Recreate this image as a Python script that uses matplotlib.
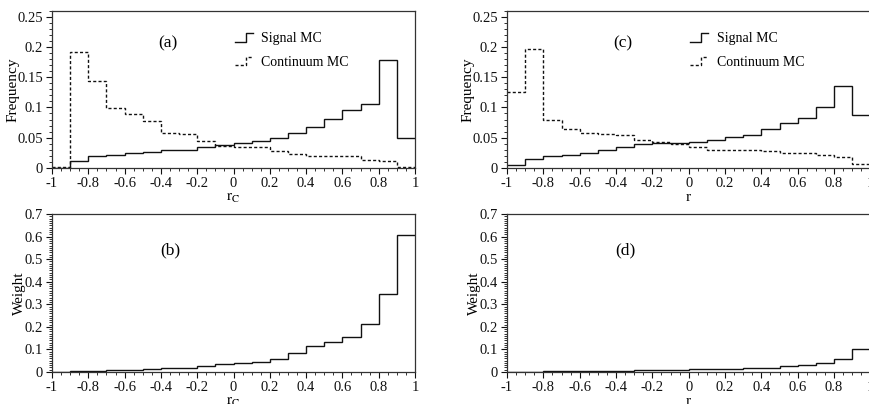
import numpy as np
import matplotlib
matplotlib.use("Agg")
import matplotlib.pyplot as plt
from matplotlib.lines import Line2D
from matplotlib.legend_handler import HandlerLine2D
from matplotlib.ticker import MultipleLocator, FuncFormatter

# bin edges of all four histograms
edges = [-1.0, -0.9, -0.8, -0.7, -0.6, -0.5, -0.4, -0.3, -0.2, -0.1, 0.0,
         0.1, 0.2, 0.3, 0.4, 0.5, 0.6, 0.7, 0.8, 0.9, 1.0]

# (a) distributions in r_C
sig_rc = [0.0, 0.011, 0.019, 0.021, 0.024, 0.026, 0.029, 0.029, 0.034, 0.038,
          0.041, 0.044, 0.049, 0.058, 0.068, 0.081, 0.096, 0.106, 0.179, 0.049]
cont_rc = [0.002, 0.192, 0.144, 0.099, 0.089, 0.077, 0.057, 0.056, 0.045, 0.037,
           0.035, 0.034, 0.028, 0.023, 0.019, 0.019, 0.019, 0.014, 0.012, 0.002]

# (c) distributions in r
sig_r = [0.005, 0.015, 0.020, 0.022, 0.024, 0.029, 0.034, 0.039, 0.042, 0.042,
         0.043, 0.046, 0.051, 0.054, 0.064, 0.074, 0.083, 0.100, 0.136, 0.087]
cont_r = [0.126, 0.196, 0.080, 0.065, 0.057, 0.056, 0.055, 0.047, 0.043, 0.040,
          0.035, 0.030, 0.030, 0.029, 0.028, 0.024, 0.024, 0.021, 0.018, 0.006]

# (b) and (d) weights
w_rc = [0.0, 0.003, 0.005, 0.007, 0.009, 0.012, 0.018, 0.019, 0.027, 0.034,
        0.038, 0.044, 0.059, 0.083, 0.117, 0.131, 0.155, 0.213, 0.344, 0.607]
w_r = [0.0, 0.0, 0.003, 0.003, 0.004, 0.004, 0.005, 0.007, 0.009, 0.010,
       0.012, 0.013, 0.015, 0.016, 0.019, 0.025, 0.030, 0.040, 0.058, 0.102]

plt.rcParams["font.family"] = ["Liberation Serif", "DejaVu Serif"]
plt.rcParams["mathtext.fontset"] = "stix"
plt.rcParams["axes.unicode_minus"] = False
plt.rcParams["font.size"] = 10.5

INK = "#111111"
DASH = (0, (2.2, 1.6))


class StepHandler(HandlerLine2D):
    """legend handle drawn as a small step, like the original figure"""
    def create_artists(self, legend, orig_handle, xdescent, ydescent,
                       width, height, fontsize, trans):
        x0, x1 = -xdescent, -xdescent + width
        xm = x0 + 0.6 * width
        y0, y1 = -ydescent + 0.05 * height, -ydescent + 0.95 * height
        line = Line2D([x0, xm, xm, x1], [y0, y0, y1, y1])
        self.update_prop(line, orig_handle, legend)
        line.set_transform(trans)
        return [line]


tick_fmt = FuncFormatter(lambda v, pos: f"{round(v, 2):g}")


def style_axes(ax, ymax, ymajor, xlabel):
    ax.set_xlim(-1, 1)
    ax.set_ylim(0, ymax)
    ax.xaxis.set_major_locator(MultipleLocator(0.2))
    ax.xaxis.set_minor_locator(MultipleLocator(0.05))
    ax.yaxis.set_major_locator(MultipleLocator(ymajor))
    ax.yaxis.set_minor_locator(MultipleLocator(0.01))
    ax.xaxis.set_major_formatter(tick_fmt)
    ax.yaxis.set_major_formatter(tick_fmt)
    ax.tick_params(which="major", direction="out", length=4, width=0.8,
                   colors=INK, labelsize=10.5, pad=2.5)
    ax.tick_params(which="minor", direction="out", length=2, width=0.6, colors=INK)
    ax.tick_params(top=False, right=False, which="both")
    for s in ax.spines.values():
        s.set_linewidth(0.9)
        s.set_color("#333333")
    ax.set_xlabel(xlabel, fontsize=11, labelpad=1)


fig = plt.figure(figsize=(8.69, 4.04), dpi=100)
W, H = 869.0, 404.0
ax_a = fig.add_axes([52 / W, (404 - 168) / H, 363 / W, 157.5 / H])
ax_b = fig.add_axes([52 / W, (404 - 372) / H, 363 / W, 158 / H])
ax_c = fig.add_axes([507 / W, (404 - 168) / H, 363.4 / W, 157.5 / H])
ax_d = fig.add_axes([507 / W, (404 - 372) / H, 363.4 / W, 158 / H])

for ax, sig, cont, tag, xl in [(ax_a, sig_rc, cont_rc, "(a)", r"$\mathrm{r_C}$"),
                               (ax_c, sig_r, cont_r, "(c)", "r")]:
    ax.stairs(sig, edges, baseline=None, color=INK, lw=1.0, label="Signal MC")
    ax.stairs(cont, edges, baseline=None, color=INK, lw=1.0,
              linestyle=DASH, label="Continuum MC")
    style_axes(ax, 0.26, 0.05, xl)
    ax.set_ylabel("Frequency", fontsize=11, labelpad=-2)
    ax.text(-0.36, 0.205, tag, fontsize=12.5, ha="center", va="center")
    h1 = Line2D([], [], color=INK, lw=1.0)
    h2 = Line2D([], [], color=INK, lw=1.0, linestyle=DASH)
    ax.legend([h1, h2], ["Signal MC", "Continuum MC"], frameon=False,
              loc="upper left", bbox_to_anchor=(0.485, 0.905), borderpad=0,
              handlelength=1.3, handletextpad=0.6, labelspacing=0.75,
              fontsize=10, handler_map={Line2D: StepHandler()})

for ax, w, tag, xl in [(ax_b, w_rc, "(b)", r"$\mathrm{r_C}$"),
                       (ax_d, w_r, "(d)", "r")]:
    ax.stairs(w, edges, baseline=None, color=INK, lw=1.0)
    style_axes(ax, 0.7, 0.1, xl)
    ax.set_ylabel("Weight", fontsize=11, labelpad=-1)
    ax.text(-0.35, 0.54, tag, fontsize=12.5, ha="center", va="center")

fig.savefig("out.png", dpi=100)
